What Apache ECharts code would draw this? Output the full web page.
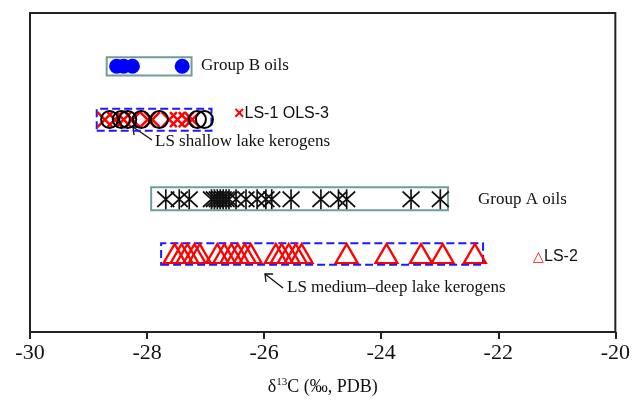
<!DOCTYPE html>
<html><head><meta charset="utf-8">
<script src="https://cdn.jsdelivr.net/npm/echarts@6/dist/echarts.min.js"></script>
<style>html,body{margin:0;padding:0;background:#fff}#c{width:633px;height:409px}</style>
</head><body><div id="c"></div>
<script>
// x values (δ13C, ‰ PDB)
const groupB = [-28.52, -28.40, -28.25, -27.40];
const ls1 = [-28.72, -28.55, -28.40, -28.25, -27.99, -27.91, -27.62, -27.48, -27.33, -27.23];
const ls3 = [-28.64, -28.44, -28.33, -28.10, -27.79, -27.14, -27.02];
const groupA = [-27.68, -27.45, -27.28, -26.90, -26.85, -26.80, -26.75, -26.70, -26.65, -26.60,
                -26.48, -26.31, -26.12, -25.97, -25.87, -25.54, -25.03, -24.73, -24.59, -23.49, -22.99];
const ls2 = [-27.53, -27.41, -27.31, -27.19, -27.10, -26.80, -26.68, -26.56, -26.45, -26.33, -26.23,
             -25.80, -25.70, -25.58, -25.46, -25.36, -24.59, -23.91, -23.32, -22.95, -22.40];
// row positions (arbitrary vertical units 0..10)
const rowB = 8.33, rowShallow = 6.66, rowA = 4.16, rowLS2 = 2.46;
// group boxes: [xmin, xmax, ymin, ymax]
const boxB = [-28.69, -27.24, 8.04, 8.61];
const boxShallow = [-28.86, -26.90, 6.31, 7.00];
const boxA = [-27.93, -22.86, 3.82, 4.54];
const boxLS2 = [-27.76, -22.26, 2.11, 2.78];
const xTicks = [-30, -28, -26, -24, -22, -20];

const serif = '"Liberation Serif", "Times New Roman", serif';
const sans = '"Liberation Sans", Arial, sans-serif';

function pts(xs, y) { return xs.map(x => [x, y]); }
function area(b, color, type) {
  return {
    silent: true,
    itemStyle: { color: 'rgba(0,0,0,0)', borderColor: color, borderWidth: 2, borderType: type },
    data: [[{ coord: [b[0], b[2]] }, { coord: [b[1], b[3]] }]]
  };
}

const chart = echarts.init(document.getElementById('c'));
chart.setOption({
  animation: false,
  grid: { left: 30, right: 15, top: 13, bottom: 77, show: true, borderColor: '#222', borderWidth: 2 },
  xAxis: {
    type: 'value', min: xTicks[0], max: xTicks[xTicks.length - 1], interval: 2,
    axisLine: { lineStyle: { color: '#222', width: 2 } },
    axisTick: { inside: false, length: 7, lineStyle: { color: '#222', width: 2 } },
    splitLine: { show: false },
    axisLabel: { fontFamily: serif, fontSize: 22, color: '#111', margin: 10 },
    name: '{d|δ}{s|13}{d|C (‰, PDB)}',
    nameLocation: 'middle', nameGap: 45,
    nameTextStyle: {
      rich: {
        d: { fontFamily: serif, fontSize: 18, color: '#111', lineHeight: 20 },
        s: { fontFamily: serif, fontSize: 11, color: '#111', lineHeight: 12, verticalAlign: 'top' }
      }
    }
  },
  yAxis: { type: 'value', min: 0, max: 10, show: false, splitLine: { show: false } },
  series: [
    {
      name: 'Group B oils', type: 'scatter', data: pts(groupB, rowB),
      symbol: 'circle', symbolSize: 15, itemStyle: { color: '#0000ff', opacity: 1 },
      markArea: area(boxB, '#6f9c9c', 'solid'), z: 3
    },
    {
      name: 'LS-1', type: 'scatter', data: pts(ls1, rowShallow),
      symbol: 'path://M-8,-7L8,7M-8,7L8,-7', symbolSize: [15, 15],
      itemStyle: { color: 'rgba(0,0,0,0)', borderColor: '#ff0000', borderWidth: 2.5, opacity: 1 },
      markArea: area(boxShallow, '#1a1aff', 'dashed'), z: 3
    },
    {
      name: 'LS-3', type: 'scatter', data: pts(ls3, rowShallow),
      symbol: 'circle', symbolSize: 17,
      itemStyle: { color: 'rgba(0,0,0,0)', borderColor: '#000', borderWidth: 2, opacity: 1 }, z: 4
    },
    {
      name: 'Group A oils', type: 'scatter', data: pts(groupA, rowA),
      symbol: 'path://M0,-9L0,9M-8,-7L8,7M-8,7L8,-7', symbolSize: [17, 20],
      itemStyle: { color: 'rgba(0,0,0,0)', borderColor: '#111', borderWidth: 1.8, opacity: 1 },
      markArea: area(boxA, '#6f9c9c', 'solid'), z: 3
    },
    {
      name: 'LS-2', type: 'scatter', data: pts(ls2, rowLS2),
      symbol: 'triangle', symbolSize: [22, 19],
      itemStyle: { color: 'rgba(0,0,0,0)', borderColor: '#ff0000', borderWidth: 2.2, opacity: 1 },
      markArea: area(boxLS2, '#1a1aff', 'dashed'), z: 3
    }
  ],
  graphic: [
    { type: 'text', style: { text: 'Group B oils', x: 201, y: 66, verticalAlign: 'middle', font: '17px ' + serif, fill: '#111' } },
    { type: 'text', style: {
        text: '{r|×}{b|LS-1 }{b|O}{b|LS-3}', x: 234, y: 114, verticalAlign: 'middle',
        rich: {
          r: { fill: '#ff0000', font: 'bold 18px ' + sans },
          b: { fill: '#111', font: '16px ' + sans }
        } } },
    { type: 'text', style: { text: 'LS shallow lake kerogens', x: 155, y: 142, verticalAlign: 'middle', font: '17px ' + serif, fill: '#111' } },
    { type: 'polyline', shape: { points: [[152, 140], [133, 127]] }, style: { stroke: '#111', lineWidth: 1.3 } },
    { type: 'polyline', shape: { points: [[134, 135], [133, 127], [141, 127]] }, style: { stroke: '#111', lineWidth: 1.3, fill: null } },
    { type: 'text', style: { text: 'Group A oils', x: 478, y: 200, verticalAlign: 'middle', font: '17px ' + serif, fill: '#111' } },
    { type: 'text', style: {
        text: '{r|△}{b|LS-2}', x: 533, y: 257, verticalAlign: 'middle',
        rich: {
          r: { fill: '#ff0000', font: '14px ' + sans },
          b: { fill: '#111', font: '16px ' + sans }
        } } },
    { type: 'text', style: { text: 'LS medium–deep lake kerogens', x: 287, y: 288, verticalAlign: 'middle', font: '17px ' + serif, fill: '#111' } },
    { type: 'polyline', shape: { points: [[283, 288], [265, 274]] }, style: { stroke: '#111', lineWidth: 1.3 } },
    { type: 'polyline', shape: { points: [[266, 282], [265, 274], [273, 274]] }, style: { stroke: '#111', lineWidth: 1.3, fill: null } }
  ]
});
</script></body></html>
